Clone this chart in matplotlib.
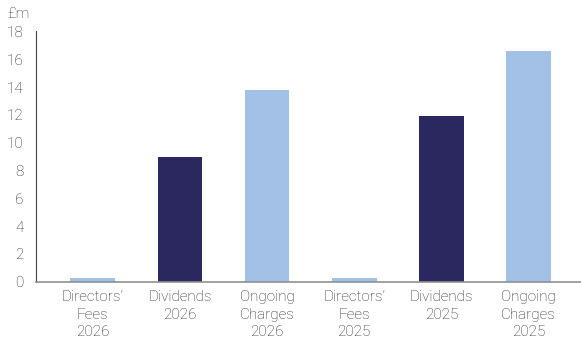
import matplotlib
matplotlib.use('Agg')
import matplotlib.pyplot as plt

# cost categories and values, £m
labels = ['Directors\u2019\nFees\n2026', 'Dividends\n2026', 'Ongoing\nCharges\n2026',
          'Directors\u2019\nFees\n2025', 'Dividends\n2025', 'Ongoing\nCharges\n2025']
values = [0.3, 9.0, 13.8, 0.3, 11.9, 16.6]
colours = ['#a3c1e6', '#2a285e', '#a3c1e6', '#a3c1e6', '#2a285e', '#a3c1e6']

plt.rcParams['font.family'] = ['Roboto', 'DejaVu Sans']
plt.rcParams['font.weight'] = 'light'

fig = plt.figure(figsize=(5.81, 3.42), dpi=100)
ax = fig.add_axes([0.062, 0.176, 0.938, 0.732])

x = range(len(values))
ax.bar(x, values, width=0.51, color=colours)

ax.set_xlim(-0.65, 5.6)
ax.set_ylim(0, 18)
ax.set_yticks(range(0, 19, 2))
ax.set_xticks(list(x))
ax.set_xticklabels(labels, fontsize=11, color='#262626', linespacing=1.33)
ax.tick_params(axis='y', length=0, labelsize=11, labelcolor='#262626', pad=9)
ax.tick_params(axis='x', length=0, pad=6)

for s in ['top', 'right']:
    ax.spines[s].set_visible(False)
ax.spines['left'].set_color('#404040')
ax.spines['left'].set_linewidth(0.8)
ax.spines['bottom'].set_color('#909090')
ax.spines['bottom'].set_linewidth(1.2)

fig.text(0.012, 0.958, '\u00a3m', fontsize=11, color='#262626', va='center')

fig.savefig('out.png', dpi=100)
